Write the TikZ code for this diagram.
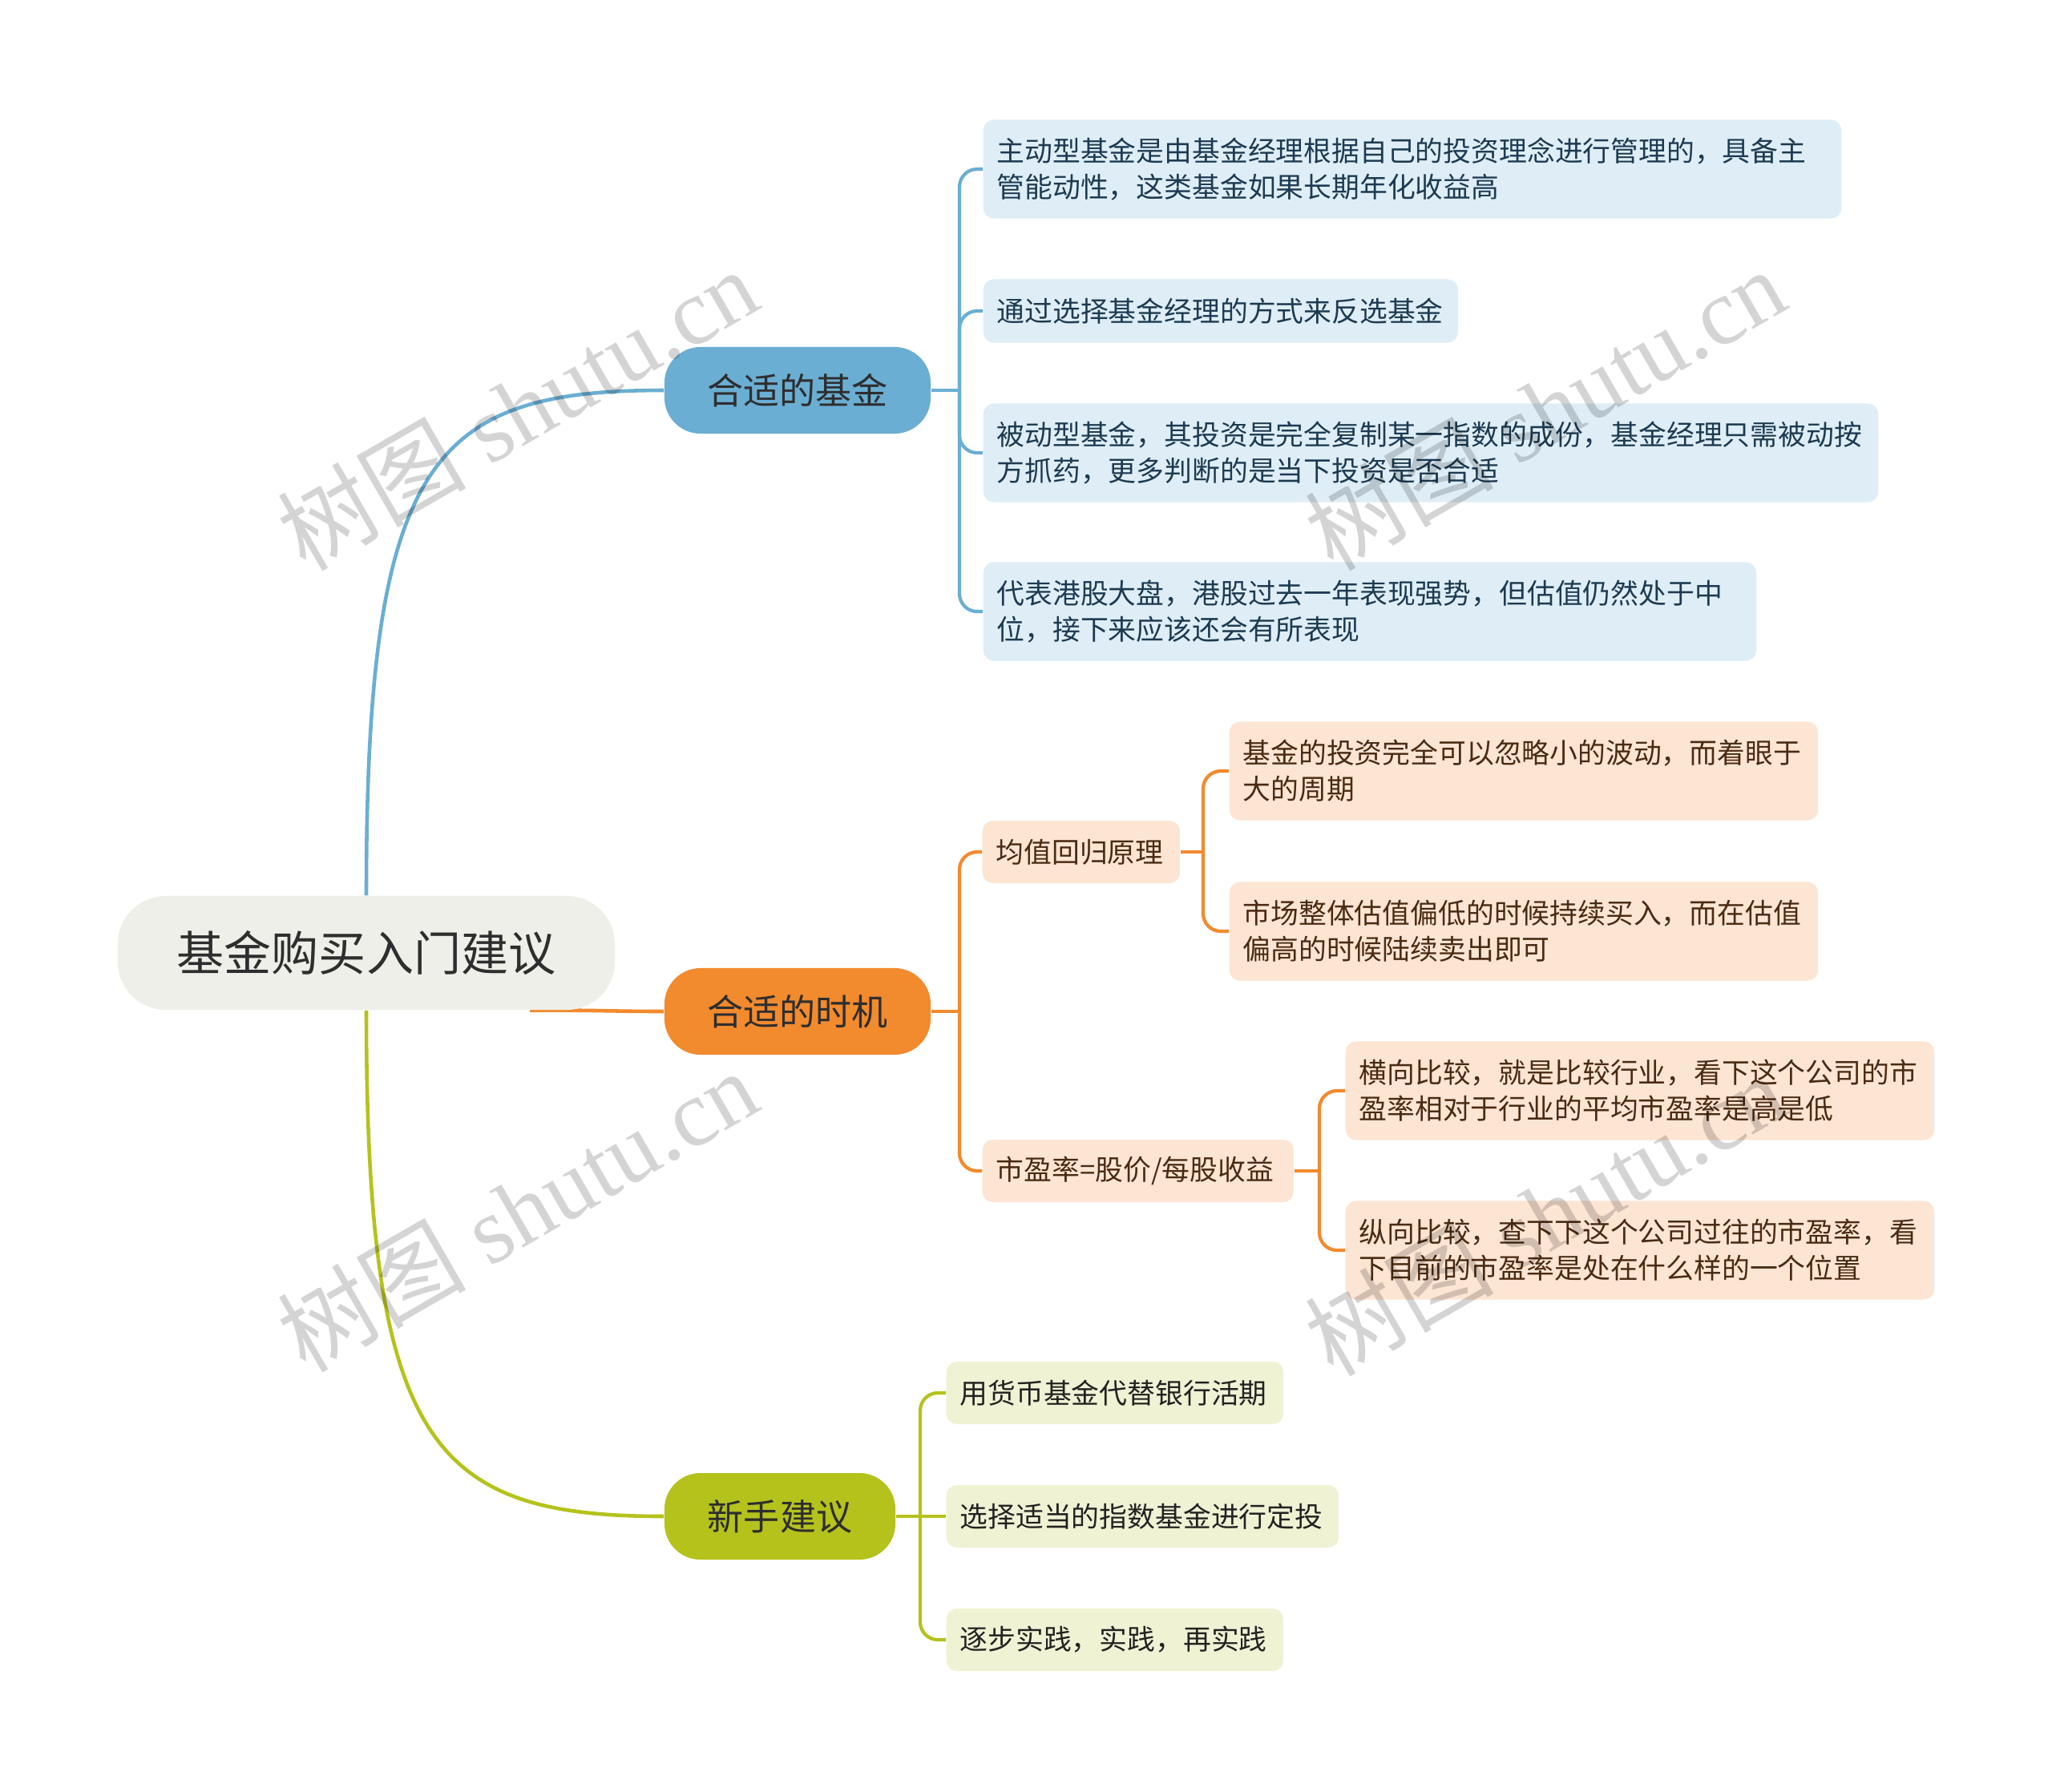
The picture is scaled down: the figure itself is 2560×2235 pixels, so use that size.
\documentclass[tikz,border=0pt]{standalone}
\usepackage{fontspec}
\setmainfont{Noto Sans CJK SC}
\newfontfamily\cjk{Noto Sans CJK SC}
\newfontfamily\wmlat{Liberation Serif}
\usetikzlibrary{calc}
\definecolor{rootfill}{HTML}{EFEFE9}
\definecolor{bbr}{HTML}{6AAED3}
\definecolor{bfill}{HTML}{DFEEF6}
\definecolor{btext}{HTML}{1C3A52}
\definecolor{obr}{HTML}{F28A2E}
\definecolor{ofill}{HTML}{FDE5D4}
\definecolor{otext}{HTML}{4A2A12}
\definecolor{gbr}{HTML}{B5C21C}
\definecolor{gfill}{HTML}{F0F2D4}
\definecolor{gtext}{HTML}{222222}
\definecolor{dtext}{HTML}{2E2E2E}
\pgfdeclarelayer{bg}
\pgfdeclarelayer{fg}
\pgfsetlayers{bg,main,fg}
\tikzset{
  rootnode/.style={fill=rootfill, rounded corners=0.6cm, minimum width=6.2cm, minimum height=1.42cm, inner sep=0pt, font=\cjk\fontsize{16.8}{20}\selectfont, text=dtext},
  brnode/.style={rounded corners=0.45cm, minimum height=1.08cm, inner sep=0pt, font=\cjk\fontsize{12.8}{15}\selectfont, text=dtext},
  leafnode/.style={rounded corners=0.13cm, align=left, inner xsep=0.17cm, inner ysep=0pt, font=\cjk\fontsize{9.9}{12.8}\selectfont, anchor=west},
  bleaf/.style={leafnode, fill=bfill, text=btext},
  oleaf/.style={leafnode, fill=ofill, text=otext},
  gleaf/.style={leafnode, fill=gfill, text=gtext},
  mainline/.style={line width=1.3pt},
  subline/.style={line width=1.2pt, rounded corners=0.22cm},
  wmark/.style={rotate=30, text=black, text opacity=0.17, font=\wmlat\fontsize{33.5}{33.5}\selectfont, inner sep=0pt}
}
\begin{document}
\begin{tikzpicture}[x=0.01cm,y=-0.01cm]
\useasboundingbox (0,0) rectangle (2560,2235);

% root and branches
\node[rootnode] (root) at (457,1189) {基金购买入门建议};
\node[brnode, fill=bbr, minimum width=3.32cm] (b1) at (995,487) {合适的基金};
\node[brnode, fill=obr, minimum width=3.32cm] (b2) at (995,1262) {合适的时机};
\node[brnode, fill=gbr, minimum width=2.88cm] (b3) at (973,1892) {新手建议};

% blue leaves
\node[bleaf, text width=10.36cm, minimum height=1.23cm] (l1) at (1226,211) {主动型基金是由基金经理根据自己的投资理念进行管理的，具备主\\管能动性，这类基金如果长期年化收益高};
\node[bleaf, text width=5.58cm, minimum height=0.79cm] (l2) at (1226,388) {通过选择基金经理的方式来反选基金};
\node[bleaf, text width=10.82cm, minimum height=1.23cm] (l3) at (1226,565) {被动型基金，其投资是完全复制某一指数的成份，基金经理只需被动按\\方抓药，更多判断的是当下投资是否合适};
\node[bleaf, text width=9.30cm, minimum height=1.23cm] (l4) at (1226,763) {代表港股大盘，港股过去一年表现强势，但估值仍然处于中\\位，接下来应该还会有所表现};

% orange
\node[oleaf, text width=2.12cm, minimum height=0.78cm] (s1) at (1225,1063) {均值回归原理};
\node[oleaf, text width=3.54cm, minimum height=0.78cm] (s2) at (1225,1461) {市盈率=股价/每股收益};
\node[oleaf, text width=7.0cm, minimum height=1.23cm] (c1) at (1533,962) {基金的投资完全可以忽略小的波动，而着眼于\\大的周期};
\node[oleaf, text width=7.0cm, minimum height=1.23cm] (c2) at (1533,1162) {市场整体估值偏低的时候持续买入，而在估值\\偏高的时候陆续卖出即可};
\node[oleaf, text width=7.0cm, minimum height=1.23cm] (c3) at (1678,1361) {横向比较，就是比较行业，看下这个公司的市\\盈率相对于行业的平均市盈率是高是低};
\node[oleaf, text width=7.0cm, minimum height=1.23cm] (c4) at (1678,1560) {纵向比较，查下下这个公司过往的市盈率，看\\下目前的市盈率是处在什么样的一个位置};

% green
\node[gleaf, text width=3.86cm, minimum height=0.78cm] (g1) at (1180,1738) {用货币基金代替银行活期};
\node[gleaf, text width=4.55cm, minimum height=0.78cm] (g2) at (1180,1892) {选择适当的指数基金进行定投};
\node[gleaf, text width=3.86cm, minimum height=0.78cm] (g3) at (1180,2046) {逐步实践，实践，再实践};

\begin{pgfonlayer}{bg}
\fill[white] (0,0) rectangle (2560,2235);
\draw[mainline, bbr] (root.north) .. controls (457,571) and (539,487) .. (b1.west);
\draw[mainline, obr] ([xshift=2.04cm]root.south) .. controls (740,1260) and (760,1262) .. (b2.west);
\draw[mainline, gbr] (root.south) .. controls (457,1804) and (539,1892) .. (b3.west);

\draw[subline, bbr] (b1.east) -- (1197,487);
\foreach \n in {l1,l2,l3,l4} \draw[subline, bbr] (1197,487) |- (\n.west);

\draw[subline, obr] (b2.east) -- (1197,1262);
\foreach \n in {s1,s2} \draw[subline, obr] (1197,1262) |- (\n.west);
\draw[subline, obr] (s1.east) -- (1501,1063);
\foreach \n in {c1,c2} \draw[subline, obr] (1501,1063) |- (\n.west);
\draw[subline, obr] (s2.east) -- (1646,1461);
\foreach \n in {c3,c4} \draw[subline, obr] (1646,1461) |- (\n.west);

\draw[subline, gbr] (b3.east) -- (g2.west);
\foreach \n in {g1,g3} \draw[subline, gbr] (1148,1892) |- (\n.west);
\end{pgfonlayer}

\begin{pgfonlayer}{fg}
\node[wmark] (w1) at (645,510) {{\cjk 树图} shutu.cn};
\node[wmark] (w2) at (1927,510) {{\cjk 树图} shutu.cn};
\node[wmark] (w3) at (645,1510) {{\cjk 树图} shutu.cn};
\node[wmark] (w4) at (1927,1515) {{\cjk 树图} shutu.cn};
\end{pgfonlayer}
\end{tikzpicture}
\end{document}
